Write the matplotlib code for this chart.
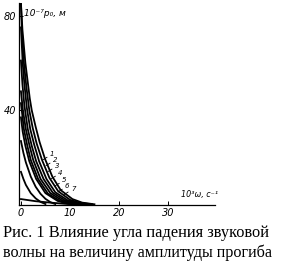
import matplotlib
matplotlib.use("Agg")
import matplotlib.pyplot as plt

# omega in 10^3 s^-1, amplitude in 10^-7 m
x1 = [0, 0.3, 0.9, 1.8, 2.2, 3.0, 3.8, 4.9, 6.4, 8.1, 10.5, 12.5, 15]
y1 = [85, 74, 60, 45, 40, 33, 26.6, 19.5, 12, 6.3, 2.5, 1.0, 0.3]
x2 = [0, 0.2, 0.6, 1.1, 1.7, 2.4, 3.2, 4.3, 5.8, 7.6, 10, 12, 14.5]
y2 = [85, 73, 60, 50, 40, 32.5, 26, 19, 11.5, 5.8, 2.2, 0.9, 0.3]
x3 = [0, 0.35, 0.7, 1.2, 1.9, 2.7, 3.7, 5.2, 7.0, 9.5, 11.5, 14]
y3 = [75, 60, 51, 41, 32, 25.5, 18.5, 11, 5.4, 2.0, 0.8, 0.3]
x4 = [0, 0.3, 0.7, 1.4, 2.2, 3.1, 4.6, 6.5, 9, 11, 13.5]
y4 = [61, 51, 42, 32, 25, 18.5, 11, 5.2, 1.9, 0.8, 0.3]
x5 = [0, 0.4, 1.0, 1.7, 2.5, 4.0, 6.0, 8.5, 10.5, 13]
y5 = [48, 40, 32, 25.5, 19, 11, 5, 1.8, 0.7, 0.2]
x6 = [0, 0.6, 1.3, 2.0, 3.5, 5.5, 8, 10, 12.5]
y6 = [43, 32, 25, 19, 11, 4.8, 1.7, 0.6, 0.2]
x7 = [0, 0.35, 0.9, 1.7, 3.1, 5.0, 7.5, 9.5, 12]
y7 = [37, 31, 25, 18.5, 11, 5, 1.7, 0.6, 0.2]

# short lower curves
xa = [0, 0.5, 1, 2, 3, 4, 5, 6, 7]
ya = [27, 22, 18, 12, 7.7, 4.7, 2.6, 1.2, 0.4]
xb = [0, 0.5, 1, 2, 3, 4, 5]
yb = [14, 11, 8.5, 5, 2.8, 1.3, 0.4]
xc = [0, 3, 6, 9, 12]
yc = [2.5, 1.6, 1.0, 0.5, 0.2]

labels = ["1", "2", "3", "4", "5", "6", "7"]
label_x = [5.9, 6.5, 6.9, 7.6, 8.4, 9.0, 10.2]
label_y = [21.5, 19.0, 16.5, 13.5, 10.5, 8.0, 6.8]

fig = plt.figure(figsize=(2.88, 2.65), dpi=100)
ax = fig.add_axes([19 / 288, 1 - 205 / 265, 196 / 288, 202 / 265])

curves = [(x1, y1), (x2, y2), (x3, y3), (x4, y4), (x5, y5), (x6, y6), (x7, y7),
          (xa, ya), (xb, yb), (xc, yc)]
for xs, ys in curves:
    ax.plot(xs, ys, color="black", linewidth=1.3, solid_joinstyle="round")

# curve numbers with short leader lines
for lab, lx, ly in zip(labels, label_x, label_y):
    ax.annotate(lab, xy=(lx - 1.4, ly - 2.4), xytext=(lx, ly),
                fontsize=5, style="italic", ha="left", va="center",
                arrowprops=dict(arrowstyle="-", color="black", linewidth=0.6,
                                shrinkA=0, shrinkB=0))

ax.set_xlim(-0.4, 39.6)
ax.set_ylim(0, 85.3)
ax.spines["top"].set_visible(False)
ax.spines["right"].set_visible(False)
ax.spines["left"].set_linewidth(0.9)
ax.spines["bottom"].set_linewidth(0.9)

ax.set_xticks([0, 10, 20, 30])
ax.set_yticks([40, 80])
ax.tick_params(direction="in", length=3, width=0.7, labelsize=7, pad=2)
for t in ax.get_xticklabels() + ax.get_yticklabels():
    t.set_style("italic")

ax.text(0.7, 81, "10⁻⁷p₀, м", fontsize=6.5, style="italic",
        family=["DejaVu Sans"], ha="left", va="center")
ax.text(32.6, 2.5, "10³ω, с⁻¹", fontsize=5.8, style="italic",
        family=["DejaVu Sans"], ha="left", va="bottom")

fig.text(3 / 288, 1 - 233 / 265, "Рис. 1 Влияние угла падения звуковой",
         family=["Liberation Serif"], fontsize=11.8, ha="left", va="center")
fig.text(3 / 288, 1 - 253 / 265, "волны на величину амплитуды прогиба",
         family=["Liberation Serif"], fontsize=11.6, ha="left", va="center")

fig.savefig("out.png", dpi=100)
